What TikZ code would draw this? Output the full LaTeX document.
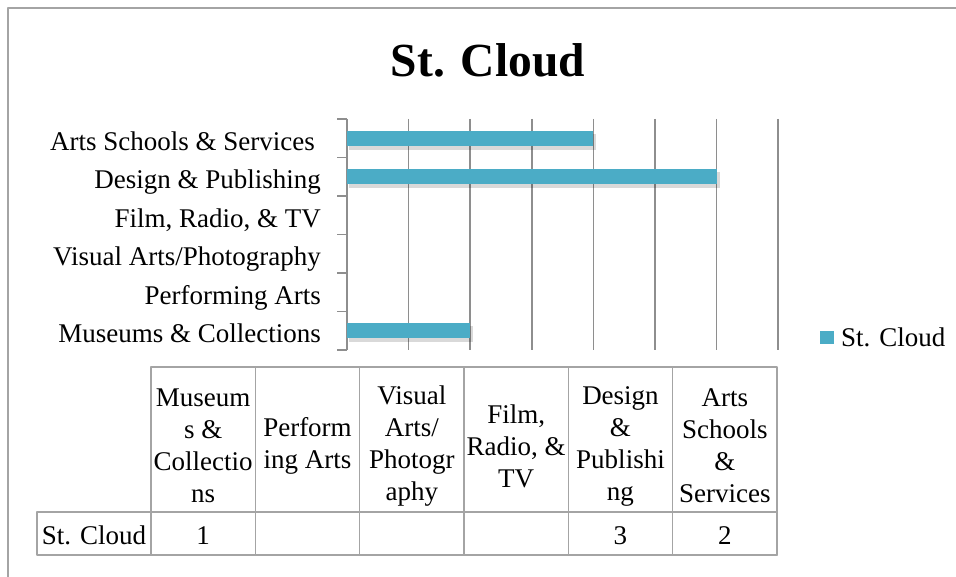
\documentclass[tikz,border=0pt]{standalone}
\usepackage{fontspec}
\setmainfont{Liberation Serif}
\definecolor{barblue}{HTML}{4BACC6}
\definecolor{gridgray}{HTML}{8E8E8E}
\definecolor{framegray}{HTML}{A4A4A4}
\begin{document}
\begin{tikzpicture}[x=1pt, y=-1pt, line join=round]

		\tikzset{lab/.style={font=\fontsize{27}{32}\selectfont, inner sep=0pt},
			cell/.style={lab, align=center},
			grid line/.style={gridgray, line width=1.6pt},
			table line/.style={framegray, line width=1.4pt},
			bar/.style={fill=barblue},
			bar shadow/.style={fill=black, opacity=.15}}

		\useasboundingbox (0,0) rectangle (956,577);
		\draw[framegray, line width=2pt] (8,577)--(8,8)--(956,8);
		\node[font=\bfseries\fontsize{47.5}{50}\selectfont, anchor=base, inner sep=0pt] (title) at (488,77) {St. Cloud};

		% value axis: 0 .. 3.5, step .5
		\foreach \i in {1,...,7}
		\draw[grid line] (347+61.6*\i,119)--(347+61.6*\i,350);
		\draw[grid line] (347,119)--(347,350);
		\foreach \j in {0,...,6}
		\draw[grid line] (337,119+38.5*\j)--(347,119+38.5*\j);

		% bars
		\foreach \v [count=\k from 0] in {2,3,0,0,0,1}{
			\ifdim \v pt>0pt
			\fill[bar shadow] (349,134+38.5*\k) rectangle (350+123.2*\v,150+38.5*\k);
			\fill[bar] (347,131+38.5*\k) rectangle (347+123.2*\v,146+38.5*\k);
			\fi
		}

		% category labels
		\foreach \name [count=\k from 0] in {Arts Schools \& Services\hspace*{6pt},Design \& Publishing,{Film, Radio, \& TV},Visual Arts/Photography,Performing Arts,Museums \& Collections}
		\node[lab, anchor=base east] (cat\k) at (321,150.5+38.5*\k) {\name};

		% legend
		\fill[bar] (820,331) rectangle (834,344);
		\node[lab, anchor=base west] (legend) at (841,347) {St. Cloud};

		% data table
		\draw[table line] (151,367) rectangle (777,555);
		\foreach \i in {1,...,5}
		\draw[table line] (151+104.33*\i,367)--(151+104.33*\i,555);
		\draw[table line] (37,512) rectangle (777,555);
		\draw[table line] (151,512)--(151,555);
		\foreach \head [count=\i from 0] in {Museum\\s \&\\Collectio\\ns,Perform\\ing Arts,Visual\\Arts/\\Photogr\\aphy,{Film,\\Radio, \&\\TV},Design\\\&\\Publishi\\ng,Arts\\Schools\\\&\\Services}
		\node[cell] (head\i) at (151+104.33*\i+52.17,446) {\head};
		\node[lab] (row) at (94,535) {St. Cloud};
		\foreach \val [count=\i from 0] in {1,,,,3,2}
		\node[lab] (val\i) at (151+104.33*\i+52.17,536) {\val};

		\end{tikzpicture}
\end{document}
